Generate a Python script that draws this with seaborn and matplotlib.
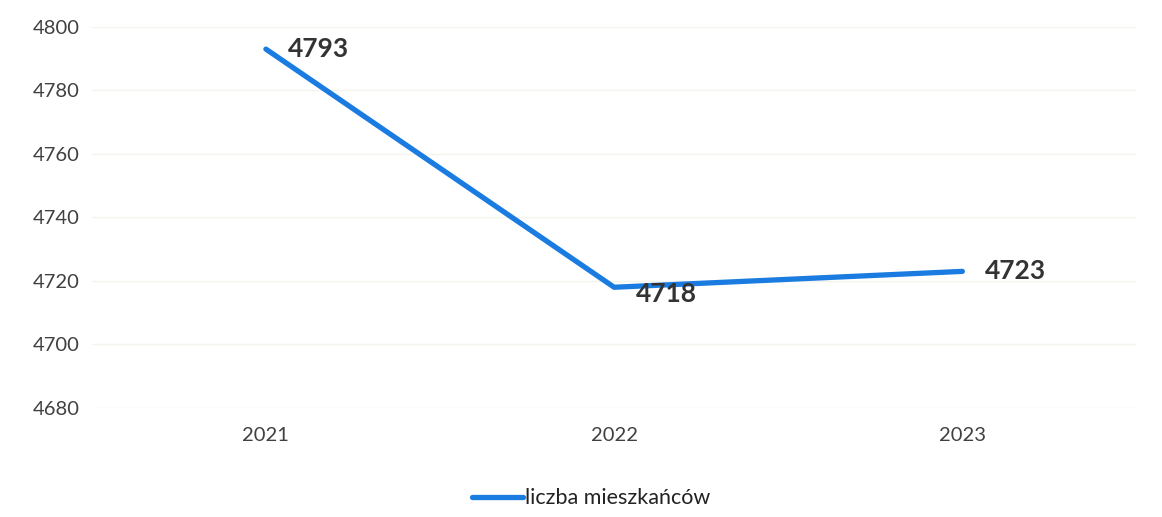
import pandas as pd
import matplotlib.pyplot as plt
import seaborn as sns

# data
years = ['2021', '2022', '2023']
residents = [4793, 4718, 4723]
series_name = 'liczba mieszkańców'

df = pd.DataFrame({'rok': years, 'wartosc': residents, 'seria': series_name})

sns.set_style('white')
plt.rcParams['font.family'] = ['Lato', 'DejaVu Sans']

fig = plt.figure(figsize=(11.62, 5.17), dpi=100)
ax = fig.add_axes([0.079, 0.211, 0.899, 0.737])

sns.lineplot(data=df, x='rok', y='wartosc', hue='seria', palette=['#1a7ce0'],
             linewidth=3.8, ax=ax, legend=True)

# value labels
for i, v in enumerate(residents):
    dy = -5 if i == 1 else 0
    ax.annotate(str(v), (i, v), xytext=(16, dy), textcoords='offset points',
                ha='left', va='center', fontsize=19, fontweight='bold', color='#333333')

ax.set_xlim(-0.5, 2.5)
ax.set_ylim(4680, 4800)
ax.set_yticks(range(4680, 4801, 20))
ax.yaxis.grid(True, color='#f4f4ee', linewidth=1)
ax.set_xlabel('')
ax.set_ylabel('')
ax.tick_params(axis='both', labelsize=14.5, colors='#404040', length=0)
ax.tick_params(axis='x', pad=14)
ax.tick_params(axis='y', pad=9)
for s in ax.spines.values():
    s.set_visible(False)

ax.legend(loc='upper center', bbox_to_anchor=(0.478, -0.16), frameon=False,
          fontsize=15.5, handlelength=2.4, handletextpad=0.1, labelcolor='#222222')

plt.savefig('out.png', dpi=100)
